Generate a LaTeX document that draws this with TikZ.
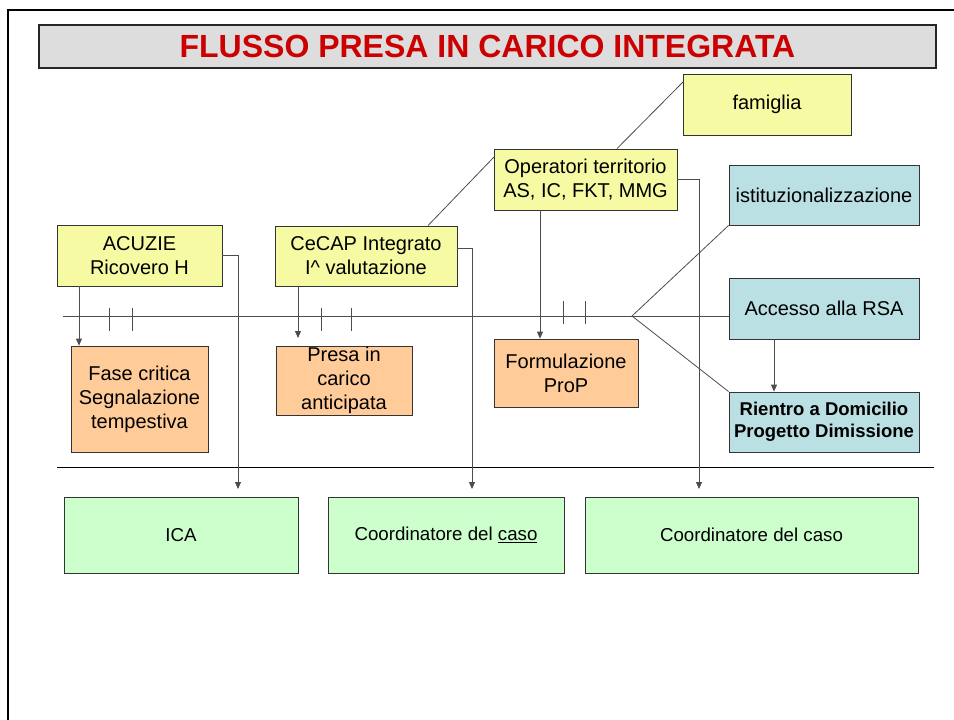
\documentclass[tikz,border=0pt]{standalone}
\usepackage{fontspec}
\setmainfont{Liberation Sans}
\usetikzlibrary{arrows.meta,calc}
\definecolor{ylw}{HTML}{F5FAA3}
\definecolor{org}{HTML}{FFCC99}
\definecolor{blu}{HTML}{BBE0E3}
\definecolor{grn}{HTML}{CCFFCC}
\definecolor{ttlgray}{HTML}{DDDDDD}
\definecolor{ttlred}{HTML}{CC0000}
\tikzset{
  box/.style={draw=black!80, line width=0.8pt, inner sep=0pt, align=center,
    font=\fontsize{20}{24}\selectfont},
  ybox/.style={box, fill=ylw},
  obox/.style={box, fill=org},
  bbox/.style={box, fill=blu},
  gbox/.style={box, fill=grn, font=\fontsize{18.7}{22}\selectfont},
  conn/.style={draw=black!70, line width=0.8pt},
  arr/.style={conn, -{Triangle[length=7pt,width=6pt]}},
  tick/.style={draw=black!70, line width=0.8pt},
}
\begin{document}
\begin{tikzpicture}[x=1pt,y=-1pt]
\useasboundingbox (0,0) rectangle (954,720);
\begin{scope}
\clip (0,0) rectangle (954,720);
\draw[line width=1.6pt] (8,10) rectangle (980,760);
\end{scope}
% title
\node[draw=black!85, line width=1.6pt, fill=ttlgray, minimum width=897pt, minimum height=43pt, inner sep=0pt] (ttl) at (487.5,46.5) {};
\node[text=ttlred, font=\fontsize{32}{34}\selectfont\bfseries] (ttltxt) at (487.5,46) {FLUSSO PRESA IN CARICO INTEGRATA};
% nodes
\node[ybox, minimum width=165pt, minimum height=61pt] (acuzie) at (139.5,255.5) {ACUZIE\\Ricovero H};
\node[ybox, minimum width=182pt, minimum height=60pt] (cecap) at (366,256) {CeCAP Integrato\\I\^{} valutazione};
\node[ybox, minimum width=183pt, minimum height=61pt] (oper) at (585.5,179.5) {Operatori territorio\\AS, IC, FKT, MMG};
\node[ybox, minimum width=168pt, minimum height=61pt] (fam) at (767,104.5) {famiglia};
\node[bbox, minimum width=190pt, minimum height=60pt] (ist) at (824,195) {istituzionalizzazione};
\node[bbox, minimum width=190pt, minimum height=61pt] (rsa) at (824,308.5) {Accesso alla RSA};
\node[bbox, minimum width=190pt, minimum height=60pt, font=\fontsize{18.5}{22}\selectfont\bfseries] (rientro) at (824,422) {Rientro a Domicilio\\Progetto Dimissione};
\node[obox, minimum width=144pt, minimum height=68pt] (prop) at (566,373) {Formulazione\\ProP};
\node[obox, minimum width=137pt, minimum height=106pt] (fase) at (139.5,399) {Fase critica\\Segnalazione\\tempestiva};
\node[obox, minimum width=136pt, minimum height=69pt] (presa) at (344,380.5) {Presa in\\carico\\anticipata};
\node[gbox, minimum width=234pt, minimum height=76pt] (ica) at (181,535) {ICA};
\node[gbox, minimum width=236pt, minimum height=76pt] (coord1) at (446,535) {Coordinatore del \underline{caso}};
\node[gbox, minimum width=333pt, minimum height=76pt] (coord2) at (751.5,535) {Coordinatore del caso};
% coordinates
\coordinate (tl0) at (63,316);
\coordinate (br) at (632,316);
\coordinate (tlend) at (729,316);
\coordinate (xa) at (79,0);
\coordinate (xc) at (298,0);
\coordinate (xo) at (540,0);
\coordinate (xr) at (774,0);
\coordinate (e1) at (238,489);
\coordinate (e2) at (472,489);
\coordinate (e3) at (699,489);
\coordinate (presaend) at (298,338);
\coordinate (famend) at (683,82);
\coordinate (operfoot) at (617,0);
\coordinate (cecaptop) at (428,0);
\coordinate (operleft) at (494,157);
\coordinate (sep0) at (57,467);
\coordinate (sep1) at (934,467);
% timeline
\draw[conn] (tl0) -- (tlend);
\draw[conn] (br) -- (ist.south west);
\draw[conn] (br) -- (rientro.north west);
% ticks
\draw[tick] (109,308) -- (109,331) (132,308) -- (132,331);
\draw[tick] (321,308) -- (321,331) (351,308) -- (351,331);
\draw[tick] (563,301) -- (563,324) (585,301) -- (585,324);
% separator
\draw[line width=1pt, black] (sep0) -- (sep1);
% connectors
\draw[arr] (acuzie.south -| xa) -- (fase.north -| xa);
\draw[arr] (acuzie.east) -| (e1);
\draw[arr] (cecap.south -| xc) -- (presaend);
\draw[arr] ([yshift=8pt]cecap.east) -| (e2);
\draw[arr] (oper.south -| xo) -- (prop.north -| xo);
\draw[arr] (oper.east) -| (e3);
\draw[conn] (oper.north -| operfoot) -- (famend);
\draw[conn] (cecap.north -| cecaptop) -- (operleft);
\draw[arr] (rsa.south -| xr) -- (rientro.north -| xr);
\end{tikzpicture}
\end{document}
